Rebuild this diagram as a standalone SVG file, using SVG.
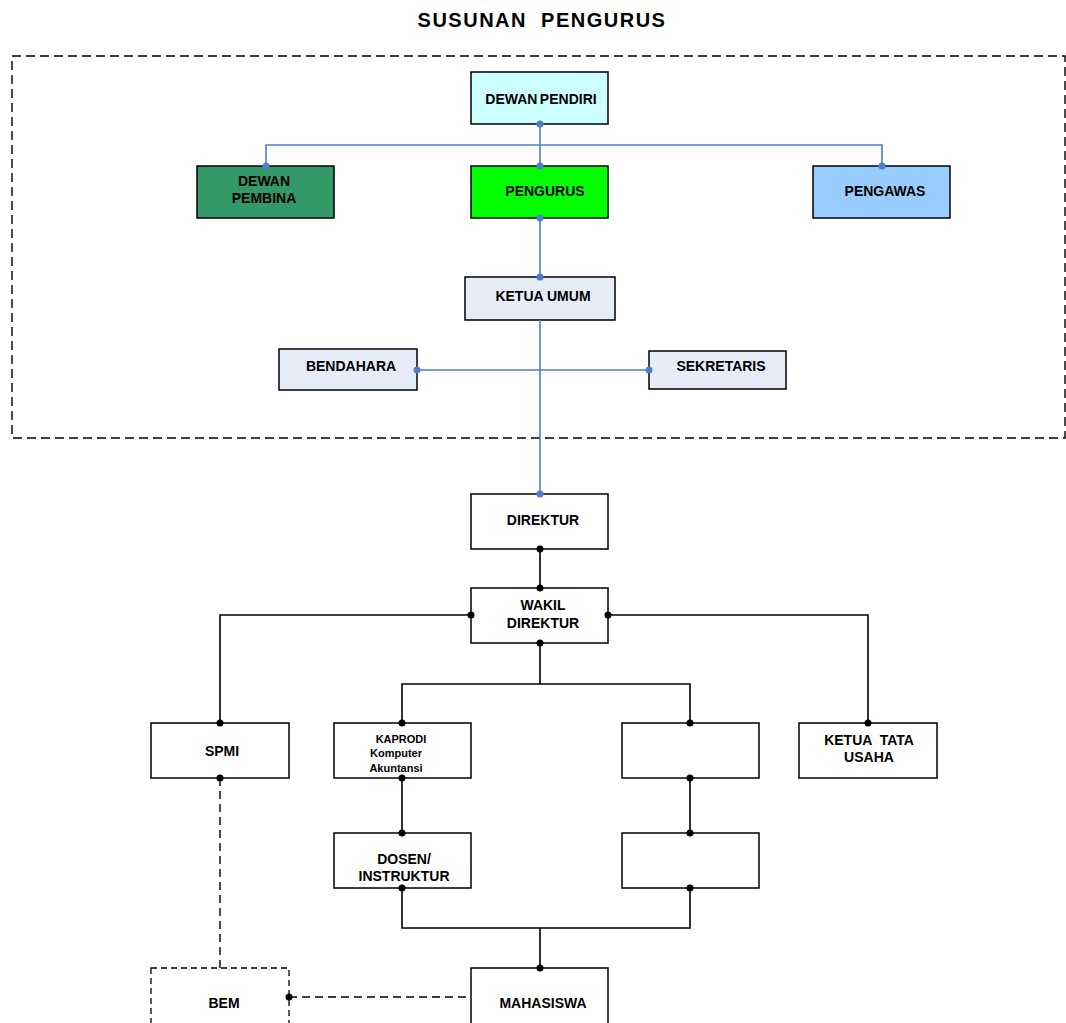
<svg xmlns="http://www.w3.org/2000/svg" width="1066" height="1023" viewBox="0 0 1066 1023">
<style>
text{font-family:"Liberation Sans",Arial,sans-serif;font-weight:bold;font-size:14px;fill:#000;text-anchor:middle}
.box{stroke:#000;stroke-width:1.5}
.w{fill:#fff}
.lav{fill:#E8ECF8}
.bl{stroke:#4F7FC8;stroke-width:1.6;fill:none}
.k{stroke:#000;stroke-width:1.6;fill:none}
.kd{stroke:#000;stroke-width:1.4;fill:none;stroke-dasharray:8,5}
.bd{fill:#4F7FC8}
.kdot{fill:#000}
.small{font-size:11px}
</style>
<rect width="1066" height="1023" fill="#fff"/>
<text x="542" y="27" style="font-size:20px;letter-spacing:1.5px;white-space:pre">SUSUNAN  PENGURUS</text>
<rect id="frame" x="12" y="56" width="1053" height="382" fill="none" stroke="#000" stroke-width="1.4" stroke-dasharray="9,5"/>
<g id="dewan-pendiri"><rect class="box" x="471" y="72" width="137" height="52" fill="#CCFFFF"/><text x="541" y="104" style="word-spacing:-1.5px">DEWAN PENDIRI</text></g>
<g id="dewan-pembina"><rect class="box" x="197" y="166" width="137" height="52" fill="#339966"/><text x="264" y="186">DEWAN</text><text x="264" y="203">PEMBINA</text></g>
<g id="pengurus"><rect class="box" x="471" y="166" width="137" height="52" fill="#00FF00"/><text x="545" y="196">PENGURUS</text></g>
<g id="pengawas"><rect class="box" x="813" y="166" width="137" height="52" fill="#99CCFF"/><text x="885" y="196">PENGAWAS</text></g>
<g id="ketua-umum"><rect class="box lav" x="465" y="277" width="150" height="43"/><text x="543" y="301">KETUA UMUM</text></g>
<g id="bendahara"><rect class="box lav" x="279" y="349" width="138" height="41"/><text x="351" y="371">BENDAHARA</text></g>
<g id="sekretaris"><rect class="box lav" x="649" y="351" width="137" height="38"/><text x="721" y="371">SEKRETARIS</text></g>
<g id="direktur"><rect class="box w" x="471" y="494" width="137" height="55"/><text x="543" y="525">DIREKTUR</text></g>
<g id="wakil-direktur"><rect class="box w" x="471" y="588" width="137" height="55"/><text x="543" y="610">WAKIL</text><text x="543" y="628">DIREKTUR</text></g>
<g id="spmi"><rect class="box w" x="151" y="723" width="138" height="55"/><text x="222" y="756">SPMI</text></g>
<g id="kaprodi"><rect class="box w" x="334" y="723" width="137" height="55"/><text class="small" x="401" y="743">KAPRODI</text><text class="small" x="396" y="757">Komputer</text><text class="small" x="396" y="772">Akuntansi</text></g>
<g id="unit-kosong-1"><rect class="box w" x="622" y="723" width="137" height="55"/></g>
<g id="ketua-tata-usaha"><rect class="box w" x="799" y="723" width="138" height="55"/><text x="869" y="745" style="white-space:pre">KETUA  TATA</text><text x="869" y="762">USAHA</text></g>
<g id="dosen"><rect class="box w" x="334" y="833" width="137" height="55"/><text x="404" y="864">DOSEN/</text><text x="404" y="881">INSTRUKTUR</text></g>
<g id="unit-kosong-2"><rect class="box w" x="622" y="833" width="137" height="55"/></g>
<g id="bem"><rect x="151" y="968" width="138" height="70" fill="#fff" stroke="#000" stroke-width="1.3" stroke-dasharray="6,4"/><text x="224" y="1008">BEM</text></g>
<g id="mahasiswa"><rect class="box w" x="471" y="968" width="137" height="70"/><text x="543" y="1008">MAHASISWA</text></g>
<g id="connectors">
<path class="bl" d="M540 124V166M266 166V145H882V166M540 218V277M540 320V494M417 370H649"/>
<path class="k" d="M540 549V588M471 615H220V723M608 615H868V723M540 643V684M402 723V684H690V723M402 778V833M690 778V833M402 888V928H690V888M540 928V968"/>
<path class="kd" d="M220 778V968M289 997H471"/>
<g class="bd">
<circle cx="540" cy="124" r="3.5"/><circle cx="540" cy="166" r="3.5"/><circle cx="266" cy="166" r="3.5"/><circle cx="882" cy="166" r="3.5"/>
<circle cx="540" cy="218" r="3.5"/><circle cx="540" cy="277" r="3.5"/><circle cx="417" cy="370" r="3.5"/><circle cx="649" cy="370" r="3.5"/><circle cx="540" cy="494" r="3.5"/>
</g>
<g class="kdot">
<circle cx="540" cy="549" r="3.5"/><circle cx="540" cy="588" r="3.5"/><circle cx="471" cy="615" r="3.5"/><circle cx="608" cy="615" r="3.5"/><circle cx="540" cy="643" r="3.5"/>
<circle cx="220" cy="723" r="3.5"/><circle cx="220" cy="778" r="3.5"/><circle cx="402" cy="723" r="3.5"/><circle cx="402" cy="778" r="3.5"/>
<circle cx="690" cy="723" r="3.5"/><circle cx="690" cy="778" r="3.5"/><circle cx="868" cy="723" r="3.5"/>
<circle cx="402" cy="833" r="3.5"/><circle cx="402" cy="888" r="3.5"/><circle cx="690" cy="833" r="3.5"/><circle cx="690" cy="888" r="3.5"/>
<circle cx="540" cy="968" r="3.5"/><circle cx="289" cy="997" r="3.5"/>
</g>
</g>
</svg>
